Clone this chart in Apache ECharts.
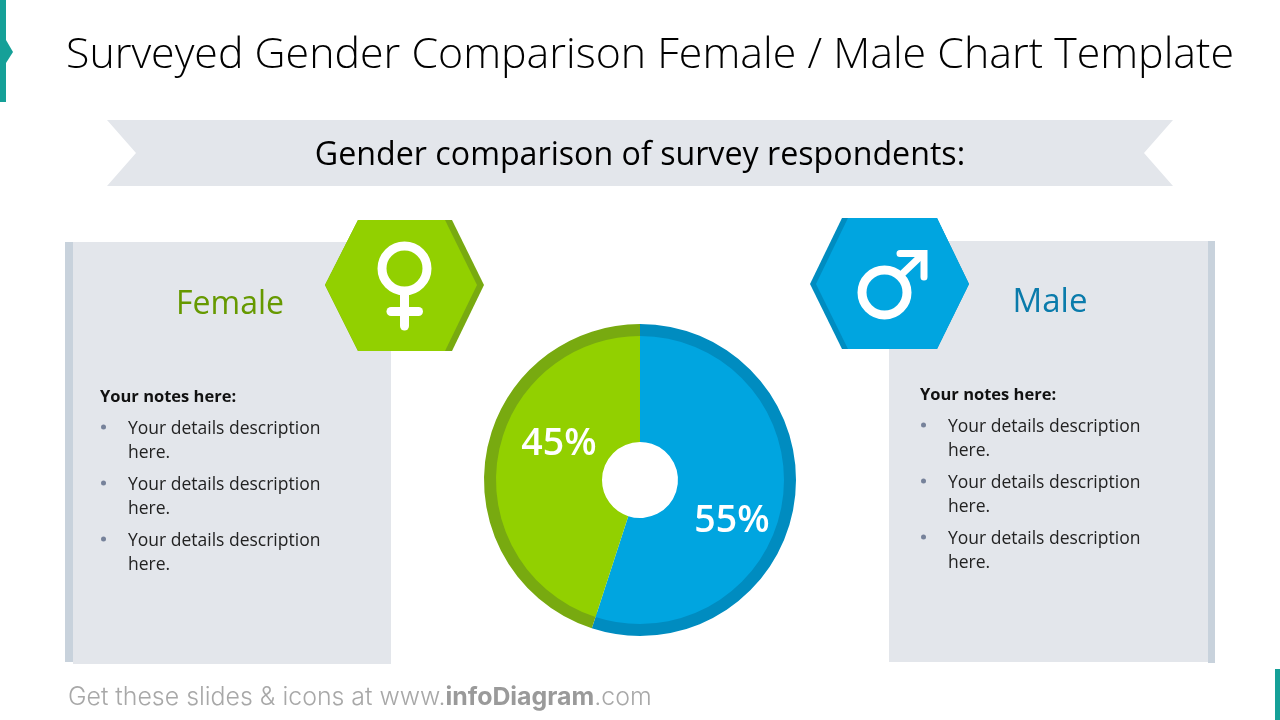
<!DOCTYPE html>
<html>
<head>
<meta charset="utf-8">
<style>html,body{margin:0;padding:0;background:#fff}#chart{width:1280px;height:720px}</style>
<script src="https://cdn.jsdelivr.net/npm/echarts@6/dist/echarts.min.js"></script>
</head>
<body>
<div id="chart"></div>
<script>
// Survey shares by gender
const categories = ['Male', 'Female'];
const shares = [55, 45];

// Copy
const pageTitle = 'Surveyed Gender Comparison Female / Male Chart Template';
const bannerText = 'Gender comparison of survey respondents:';
const notesHeading = 'Your notes here:';
const noteLines = ['Your details description', 'here.'];
const noteCount = 3;

// Palette
const blue = '#00a5e0', blueDark = '#008cc0', blueText = '#0a7bab';
const green = '#92d000', greenDark = '#78aa10', greenText = '#669900';
const panel = '#e3e6eb', panelEdge = '#c8d2dc', teal = '#15a098';
const bodyFont = '"Open Sans", sans-serif';

const poly = (points, fill) => ({ type: 'polygon', shape: { points }, style: { fill }, silent: true });
const box = (x, y, width, height, fill) => ({ type: 'rect', shape: { x, y, width, height }, style: { fill }, silent: true });
const label = (x, y, text, font, fill, align) => ({
  type: 'text', x, y, silent: true,
  style: { text, font, fill, align: align || 'left', verticalAlign: 'middle' }
});
const stroke = (points, lineWidth) => ({
  type: 'polyline', shape: { points }, silent: true,
  style: { stroke: '#fff', lineWidth, lineCap: 'round', lineJoin: 'miter', fill: null }
});
const ring = (cx, cy, r) => ({
  type: 'circle', shape: { cx, cy, r }, silent: true,
  style: { stroke: '#fff', lineWidth: 9, fill: null }
});

// A card's side text: heading plus a bulleted list
function notes(x, top) {
  const out = [label(x, top + 2, notesHeading, '700 16.5px ' + bodyFont, '#111')];
  for (let i = 0; i < noteCount; i++) {
    const y = top + 34 + i * 56;
    out.push({ type: 'circle', shape: { cx: x + 3.5, cy: y - 2, r: 2.5 }, style: { fill: '#76829a' }, silent: true });
    noteLines.forEach((line, j) => {
      out.push(label(x + 28, y + j * 24, line, '400 17.5px ' + bodyFont, '#222'));
    });
  }
  return out;
}

const shapes = [
  // slide furniture
  box(0, 0, 6, 102, teal),
  poly([[6, 40], [13, 52], [6, 63]], teal),
  box(1275, 669, 5, 51, teal),
  label(66, 56, pageTitle, '300 42.9px ' + bodyFont, '#000'),
  poly([[107, 120], [1173, 120], [1144, 153], [1173, 186], [107, 186], [136, 153]], panel),
  label(640, 156, bannerText, '400 32.2px ' + bodyFont, '#000', 'center'),

  // female card
  box(65, 242, 8, 420, panelEdge),
  box(73, 242, 318, 422, panel),
  poly([[358, 220], [452, 220], [484, 285], [452, 351], [358, 351], [325, 285]], greenDark),
  poly([[358, 220], [445, 220], [477, 285], [445, 351], [358, 351], [325, 285]], green),
  ring(404.5, 268.5, 22.5),
  stroke([[404.5, 293], [404.5, 326]], 9),
  stroke([[391, 311.5], [418.5, 311.5]], 9),
  label(230, 305, categories[1], '400 32px ' + bodyFont, greenText, 'center'),
  ...notes(100, 395),

  // male card
  box(889, 241, 319, 421, panel),
  box(1208, 241, 7, 422, panelEdge),
  poly([[842, 218], [937, 218], [969, 284], [937, 349], [842, 349], [810, 284]], blueDark),
  poly([[848, 218], [937, 218], [969, 284], [937, 349], [848, 349], [816, 284]], blue),
  ring(884.5, 292.5, 22.5),
  stroke([[901, 275], [922, 255]], 7),
  stroke([[900, 253.5], [924, 253.5], [924, 277]], 7),
  label(1050, 303, categories[0], '400 33px ' + bodyFont, blueText, 'center'),
  ...notes(920, 393),

  // footer
  {
    type: 'text', x: 68, y: 698, silent: true,
    style: {
      text: '{a|Get these slides & icons at www.}{b|infoDiagram}{a|.com}',
      verticalAlign: 'middle',
      rich: {
        a: { font: '300 24.9px Inter, sans-serif', fill: '#a8a8a8' },
        b: { font: '700 24.9px Inter, sans-serif', fill: '#9a9a9a' }
      }
    }
  }
];

// Percent labels sit off the slice midlines
const labelSpots = { Male: [732, 521], Female: [559, 444] };

const slices = (colors) => categories.map((name, i) => ({
  name, value: shares[i], itemStyle: { color: colors[i] }
}));

const chart = echarts.init(document.getElementById('chart'), null, { renderer: 'canvas' });
chart.setOption({
  animation: false,
  graphic: { elements: shapes },
  series: [
    {
      type: 'pie', silent: true, center: [640, 480], radius: [140, 156],
      startAngle: 90, clockwise: true,
      label: { show: false }, labelLine: { show: false },
      data: slices([blueDark, greenDark])
    },
    {
      type: 'pie', silent: true, center: [640, 480], radius: [38, 144],
      startAngle: 90, clockwise: true, z: 3,
      labelLine: { show: false },
      label: {
        show: true, position: 'inside', formatter: '{c}%',
        color: '#fff', fontFamily: '"Open Sans", sans-serif', fontWeight: 600, fontSize: 37.5
      },
      labelLayout: (p) => {
        const spot = labelSpots[categories[p.dataIndex]];
        return { x: spot[0], y: spot[1], align: 'center', verticalAlign: 'middle' };
      },
      data: slices([blue, green])
    }
  ]
});
</script>
</body>
</html>
